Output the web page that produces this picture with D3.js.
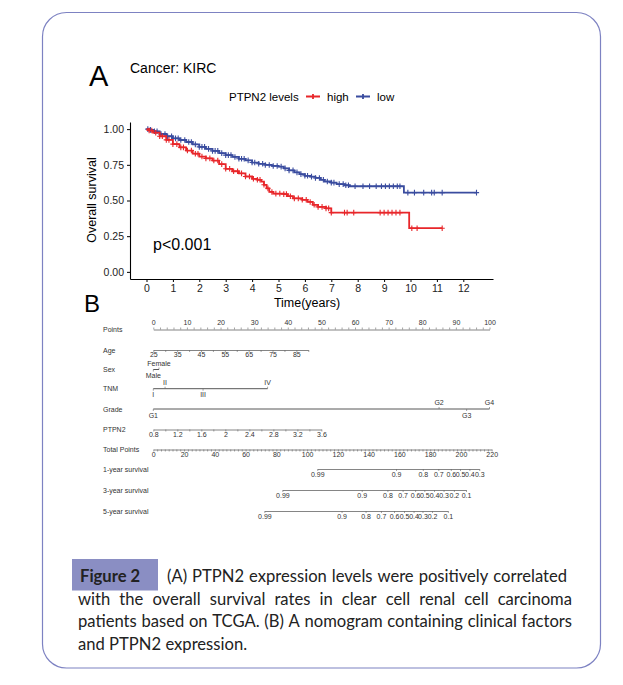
<!DOCTYPE html>
<html>
<head>
<meta charset="utf-8">
<script src="https://cdn.jsdelivr.net/npm/d3@7"></script>
<style>
  body { margin: 0; background: #fff; }
  svg { display: block; }
</style>
</head>
<body>
<svg id="fig" width="623" height="685"></svg>
<script>
// ---- A: Kaplan-Meier, values ----
const lowTimes = [0, 0.1, 0.25, 0.5, 0.75, 1.0, 1.25, 1.5, 1.75, 2.0, 2.25, 2.5, 2.75, 3.0, 3.25, 3.5, 3.75, 4.0,
  4.25, 4.5, 4.75, 5.0, 5.2, 5.4, 5.6, 5.8, 6.0, 6.2, 6.4, 6.6, 6.75, 7.0, 7.2, 7.5, 7.7, 9.75];
const lowSurv = [1.0, 0.995, 0.985, 0.966, 0.95, 0.935, 0.924, 0.91, 0.893, 0.876, 0.862, 0.848, 0.832, 0.818, 0.805, 0.792, 0.781, 0.766,
  0.757, 0.749, 0.742, 0.737, 0.725, 0.711, 0.697, 0.685, 0.673, 0.667, 0.658, 0.645, 0.633, 0.625, 0.615, 0.607, 0.600, 0.555];
const lowEnd = 12.5;

const highTimes = [0, 0.1, 0.25, 0.5, 0.75, 1.0, 1.25, 1.5, 1.75, 2.0, 2.25, 2.5, 2.75, 3.0, 3.25, 3.5, 3.75, 4.0,
  4.2, 4.35, 4.45, 4.55, 4.65, 4.8, 5.2, 5.35, 5.55, 5.9, 6.1, 6.3, 6.5, 6.8, 7.0, 9.95];
const highSurv = [1.0, 0.99, 0.975, 0.95, 0.925, 0.895, 0.872, 0.85, 0.828, 0.808, 0.795, 0.78, 0.755, 0.722, 0.705, 0.69, 0.668, 0.652,
  0.645, 0.632, 0.61, 0.585, 0.56, 0.548, 0.545, 0.53, 0.515, 0.505, 0.49, 0.47, 0.455, 0.445, 0.415, 0.306];
const highEnd = 11.2;

const lowCensor = [0.05, 0.15, 0.3, 0.4, 0.55, 0.7, 0.8, 0.95, 1.1, 1.2, 1.3, 1.45, 1.6, 1.7, 1.85, 2.0, 2.1, 2.2, 2.35, 2.5,
  2.6, 2.7, 2.85, 3.0, 3.1, 3.2, 3.35, 3.5, 3.6, 3.7, 3.85, 4.0, 4.1, 4.25, 4.4, 4.5, 4.65, 4.8, 4.95, 5.1, 5.25, 5.4,
  5.55, 5.7, 5.85, 6.0, 6.1, 6.25, 6.4, 6.55, 6.7, 6.85, 7.0, 7.1, 7.3, 7.45, 7.55, 7.65, 7.9, 8.2, 8.45, 8.7, 8.9,
  9.05, 9.2, 9.35, 9.5, 9.6, 9.9, 10.15, 10.5, 10.8, 10.9, 11.2, 12.5];
const highCensor = [0.1, 0.2, 0.35, 0.5, 0.6, 0.75, 0.85, 1.0, 1.15, 1.3, 1.4, 1.55, 1.7, 1.85, 1.95, 2.1, 2.25, 2.4, 2.55,
  2.7, 2.85, 3.0, 3.15, 3.3, 3.45, 3.6, 3.75, 3.9, 4.05, 4.2, 4.3, 4.45, 4.6, 4.75, 4.9, 5.05, 5.2, 5.3, 5.45, 5.6,
  5.75, 5.9, 6.05, 6.2, 6.35, 6.5, 6.65, 6.8, 6.9, 7.0, 7.5, 7.6, 7.85, 8.85, 9.0, 9.15, 9.3, 9.45, 9.6, 10.05, 10.25, 11.2];

const survTicks = [0, 0.25, 0.5, 0.75, 1];
const yearTicks = [0, 1, 2, 3, 4, 5, 6, 7, 8, 9, 10, 11, 12];

// ---- B: nomogram ----
const pointLabels = [0, 10, 20, 30, 40, 50, 60, 70, 80, 90, 100];
const ageLabels = [25, 35, 45, 55, 65, 75, 85];
const ageRange = [25, 90];
const agePoints = [0, 46.1];
const sexLevels = ["Male", "Female"];
const sexPoints = [0, 1.7];
const tnmLevels = ["I", "II", "III", "IV"];
const tnmPoints = [0, 3.5, 14.8, 34];
const gradeLevels = ["G1", "G2", "G3", "G4"];
const gradePoints = [0, 85, 93.2, 100];
const ptpn2Labels = [0.8, 1.2, 1.6, 2, 2.4, 2.8, 3.2, 3.6];
const ptpn2Range = [0.8, 3.6];
const ptpn2Points = [0, 50];
const totalLabels = [0, 20, 40, 60, 80, 100, 120, 140, 160, 180, 200, 220];
const surv1Probs = [0.99, 0.9, 0.8, 0.7, 0.6, 0.5, 0.4, 0.3];
const surv1Total = [106.6, 157.8, 175.2, 185.3, 193.4, 199.4, 205.5, 211.9];
const surv3Probs = [0.99, 0.9, 0.8, 0.7, 0.6, 0.5, 0.4, 0.3, 0.2, 0.1];
const surv3Total = [83.9, 135.5, 152.2, 162.1, 170.2, 176.2, 182.5, 188.7, 195.4, 203.3];
const surv5Probs = [0.99, 0.9, 0.8, 0.7, 0.6, 0.5, 0.4, 0.3, 0.2, 0.1];
const surv5Total = [72.2, 122.4, 138, 148, 156.5, 163, 169.2, 175, 181.2, 191.5];

const caption = [
  "(A) PTPN2 expression levels were positively correlated",
  "with the overall survival rates in clear cell renal cell carcinoma",
  "patients based on TCGA.  (B) A nomogram containing clinical factors",
  "and PTPN2 expression."
];

const red = "#e8262a";
const blue = "#3a4c9f";
const sans = "'Liberation Sans', Arial, sans-serif";

const svg = d3.select("#fig");

// frame
svg.append("rect")
  .attr("x", 42.5).attr("y", 12.5)
  .attr("width", 558).attr("height", 655.5)
  .attr("rx", 24).attr("ry", 24)
  .attr("fill", "#fff")
  .attr("stroke", "#7d82c2")
  .attr("stroke-width", 1.2);

// ================= panel A =================
svg.append("text").attr("x", 89).attr("y", 86)
  .attr("font-family", sans).attr("font-size", 29).text("A");
svg.append("text").attr("x", 130).attr("y", 73)
  .attr("font-family", sans).attr("font-size", 14).text("Cancer: KIRC");

const x = d3.scaleLinear().domain([-0.625, 13.125]).range([130, 493]);
const y = d3.scaleLinear().domain([-0.05, 1.05]).range([279, 122]);

const yAxis = svg.append("g")
  .attr("transform", "translate(130,0)")
  .call(d3.axisLeft(y).tickValues(survTicks).tickFormat(d3.format(".2f")).tickSize(3).tickSizeOuter(0).tickPadding(3));
const xAxis = svg.append("g")
  .attr("transform", "translate(0,279)")
  .call(d3.axisBottom(x).tickValues(yearTicks).tickFormat(d3.format("d")).tickSize(3).tickSizeOuter(0).tickPadding(3));
[xAxis, yAxis].forEach(g => {
  g.attr("color", "#000");
  g.selectAll("path.domain").attr("stroke-width", 1.1);
  g.selectAll("text").attr("font-family", sans).attr("font-size", 10.5).attr("fill", "#222");
});

svg.append("text")
  .attr("transform", "translate(96,200) rotate(-90)")
  .attr("text-anchor", "middle")
  .attr("font-family", sans).attr("font-size", 12.5)
  .text("Overall survival");
svg.append("text").attr("x", 307).attr("y", 306.5)
  .attr("text-anchor", "middle")
  .attr("font-family", sans).attr("font-size", 12.5)
  .text("Time(years)");
svg.append("text").attr("x", 153).attr("y", 250)
  .attr("font-family", sans).attr("font-size", 16)
  .text("p<0.001");

const series = [
  { times: lowTimes, surv: lowSurv, end: lowEnd, censor: lowCensor, color: blue },
  { times: highTimes, surv: highSurv, end: highEnd, censor: highCensor, color: red }
];

const stepLine = d3.line()
  .x(d => x(d[0]))
  .y(d => y(d[1]))
  .curve(d3.curveStepAfter);

const bis = d3.bisector(d => d).right;

series.forEach(s => {
  const pts = s.times.map((t, i) => [t, s.surv[i]]);
  pts.push([s.end, s.surv[s.surv.length - 1]]);
  svg.append("path")
    .attr("d", stepLine(pts))
    .attr("fill", "none")
    .attr("stroke", s.color)
    .attr("stroke-width", 1.8);

  const survAt = t => s.surv[Math.max(0, bis(s.times, t) - 1)];
  svg.append("g").selectAll("path")
    .data(s.censor)
    .join("path")
    .attr("d", t => {
      const cx = x(t), cy = y(survAt(t));
      return `M${cx - 2.6},${cy}H${cx + 2.6}M${cx},${cy - 2.8}V${cy + 2.8}`;
    })
    .attr("stroke", s.color)
    .attr("stroke-width", 1.1);
});

// legend
const legend = svg.append("g").attr("font-family", sans).attr("font-size", 11.5);
legend.append("text").attr("x", 229).attr("y", 100.5).text("PTPN2 levels");
[["high", red, 306], ["low", blue, 356]].forEach(([lab, col, lx]) => {
  legend.append("path")
    .attr("d", `M${lx},96.5H${lx + 14}M${lx + 7},93.9V99.1`)
    .attr("stroke", col).attr("stroke-width", 1.8);
  legend.append("text").attr("x", lx + 21).attr("y", 100.5).text(lab);
});

// ================= panel B =================
svg.append("text").attr("x", 84).attr("y", 312)
  .attr("font-family", sans).attr("font-size", 24).text("B");

const ptsX = d3.scaleLinear().domain([0, 100]).range([153.3, 489.5]);
const totX = d3.scaleLinear().domain([0, 220]).range([153.3, 491.7]);

const nomo = svg.append("g");
const lineCol = "#666";
const txtCol = "#333";
const fs = 7;

function rowLabel(yy, text) {
  nomo.append("text").attr("x", 103).attr("y", yy + 2.5)
    .attr("font-family", sans).attr("font-size", fs).attr("fill", txtCol)
    .text(text);
}

function styleAxis(g) {
  g.attr("color", lineCol);
  g.selectAll("path.domain").attr("stroke-width", 0.8);
  g.selectAll(".tick line").attr("stroke-width", 0.6);
  g.selectAll("text").attr("font-family", sans).attr("font-size", fs).attr("fill", txtCol);
}

// continuous row: scale maps value -> pixel, minor ticks every step, labels on given values
function contRow(yy, scale, labels, step, top) {
  const [d0, d1] = scale.domain();
  const minor = d3.range(d0, d1 + step / 2, step).map(v => +v.toFixed(4));
  const isLab = v => labels.some(l => Math.abs(l - v) < 1e-6);
  const ax = (top ? d3.axisTop(scale) : d3.axisBottom(scale))
    .tickValues(minor)
    .tickFormat(v => isLab(v) ? String(+v.toFixed(2)) : "")
    .tickSize(2).tickSizeOuter(0).tickPadding(top ? 2.5 : 0.5);
  const g = nomo.append("g").attr("transform", `translate(0,${yy})`).call(ax);
  styleAxis(g);
}

// categorical row: labels alternate below/above along the line
function catRow(yy, levels, points) {
  const px = points.map(p => ptsX(p));
  nomo.append("line")
    .attr("x1", d3.min(px)).attr("x2", d3.max(px))
    .attr("y1", yy).attr("y2", yy)
    .attr("stroke", "#444").attr("stroke-width", 0.9);
  const order = d3.range(levels.length).sort((a, b) => points[a] - points[b]);
  order.forEach((idx, k) => {
    const above = k % 2 === 1;
    nomo.append("line")
      .attr("x1", px[idx]).attr("x2", px[idx])
      .attr("y1", yy).attr("y2", above ? yy - 2 : yy + 2)
      .attr("stroke", lineCol).attr("stroke-width", 0.6);
    nomo.append("text")
      .attr("x", px[idx]).attr("y", above ? yy - 4 : yy + 8.5)
      .attr("text-anchor", "middle")
      .attr("font-family", sans).attr("font-size", fs).attr("fill", txtCol)
      .text(levels[idx]);
  });
}

// survival row: total points positions labelled with probabilities
function survRow(yy, probs, totals) {
  const sc = d3.scaleLinear()
    .domain([totals[0], totals[totals.length - 1]])
    .range([totX(totals[0]), totX(totals[totals.length - 1])]);
  const ax = d3.axisBottom(sc)
    .tickValues(totals)
    .tickFormat((d, i) => String(probs[i]))
    .tickSize(2).tickSizeOuter(0).tickPadding(1.5);
  const g = nomo.append("g").attr("transform", `translate(0,${yy})`).call(ax);
  styleAxis(g);
}

const rows = { points: 329.5, age: 350, sex: 369.5, tnm: 388.7, grade: 409, ptpn2: 429.5, total: 449.5, s1: 469, s3: 490, s5: 511 };

rowLabel(rows.points, "Points");
contRow(rows.points, ptsX, pointLabels, 2, true);

rowLabel(rows.age, "Age");
contRow(rows.age, d3.scaleLinear().domain(ageRange).range(agePoints.map(ptsX)), ageLabels, 5, false);

rowLabel(rows.sex, "Sex");
catRow(rows.sex, sexLevels, sexPoints);

rowLabel(rows.tnm, "TNM");
catRow(rows.tnm, tnmLevels, tnmPoints);

rowLabel(rows.grade, "Grade");
catRow(rows.grade, gradeLevels, gradePoints);

rowLabel(rows.ptpn2, "PTPN2");
contRow(rows.ptpn2, d3.scaleLinear().domain(ptpn2Range).range(ptpn2Points.map(ptsX)), ptpn2Labels, 0.2, false);

rowLabel(rows.total, "Total Points");
contRow(rows.total, totX, totalLabels, 2.5, false);

rowLabel(rows.s1, "1-year survival");
survRow(rows.s1, surv1Probs, surv1Total);
rowLabel(rows.s3, "3-year survival");
survRow(rows.s3, surv3Probs, surv3Total);
rowLabel(rows.s5, "5-year survival");
survRow(rows.s5, surv5Probs, surv5Total);

// ================= caption =================
const capFont = "Lato, 'Open Sans', sans-serif";
const capSize = 16.6;
svg.append("rect").attr("x", 72).attr("y", 559)
  .attr("width", 86).attr("height", 31.5)
  .attr("fill", "#8a8ec3");
svg.append("text").attr("x", 80).attr("y", 582)
  .attr("font-family", capFont).attr("font-size", capSize).attr("font-weight", "bold")
  .attr("fill", "#222").text("Figure 2");

function justify(line, x0, x1, yy, stretch) {
  const words = line.split(/\s+/);
  const nodes = words.map(w => svg.append("text")
    .attr("y", yy)
    .attr("font-family", capFont).attr("font-size", capSize).attr("fill", "#222")
    .text(w));
  const widths = nodes.map(n => n.node().getComputedTextLength());
  let gap = 4.3;
  if (stretch) gap = (x1 - x0 - d3.sum(widths)) / (words.length - 1);
  let cx = x0;
  nodes.forEach((n, i) => {
    n.attr("x", cx);
    cx += widths[i] + gap;
  });
}

justify(caption[0], 167, 567, 582, true);
justify(caption[1], 78, 572, 604.5, true);
justify(caption[2], 78, 572, 627, true);
justify(caption[3], 78, 572, 649.5, false);
</script>
</body>
</html>
